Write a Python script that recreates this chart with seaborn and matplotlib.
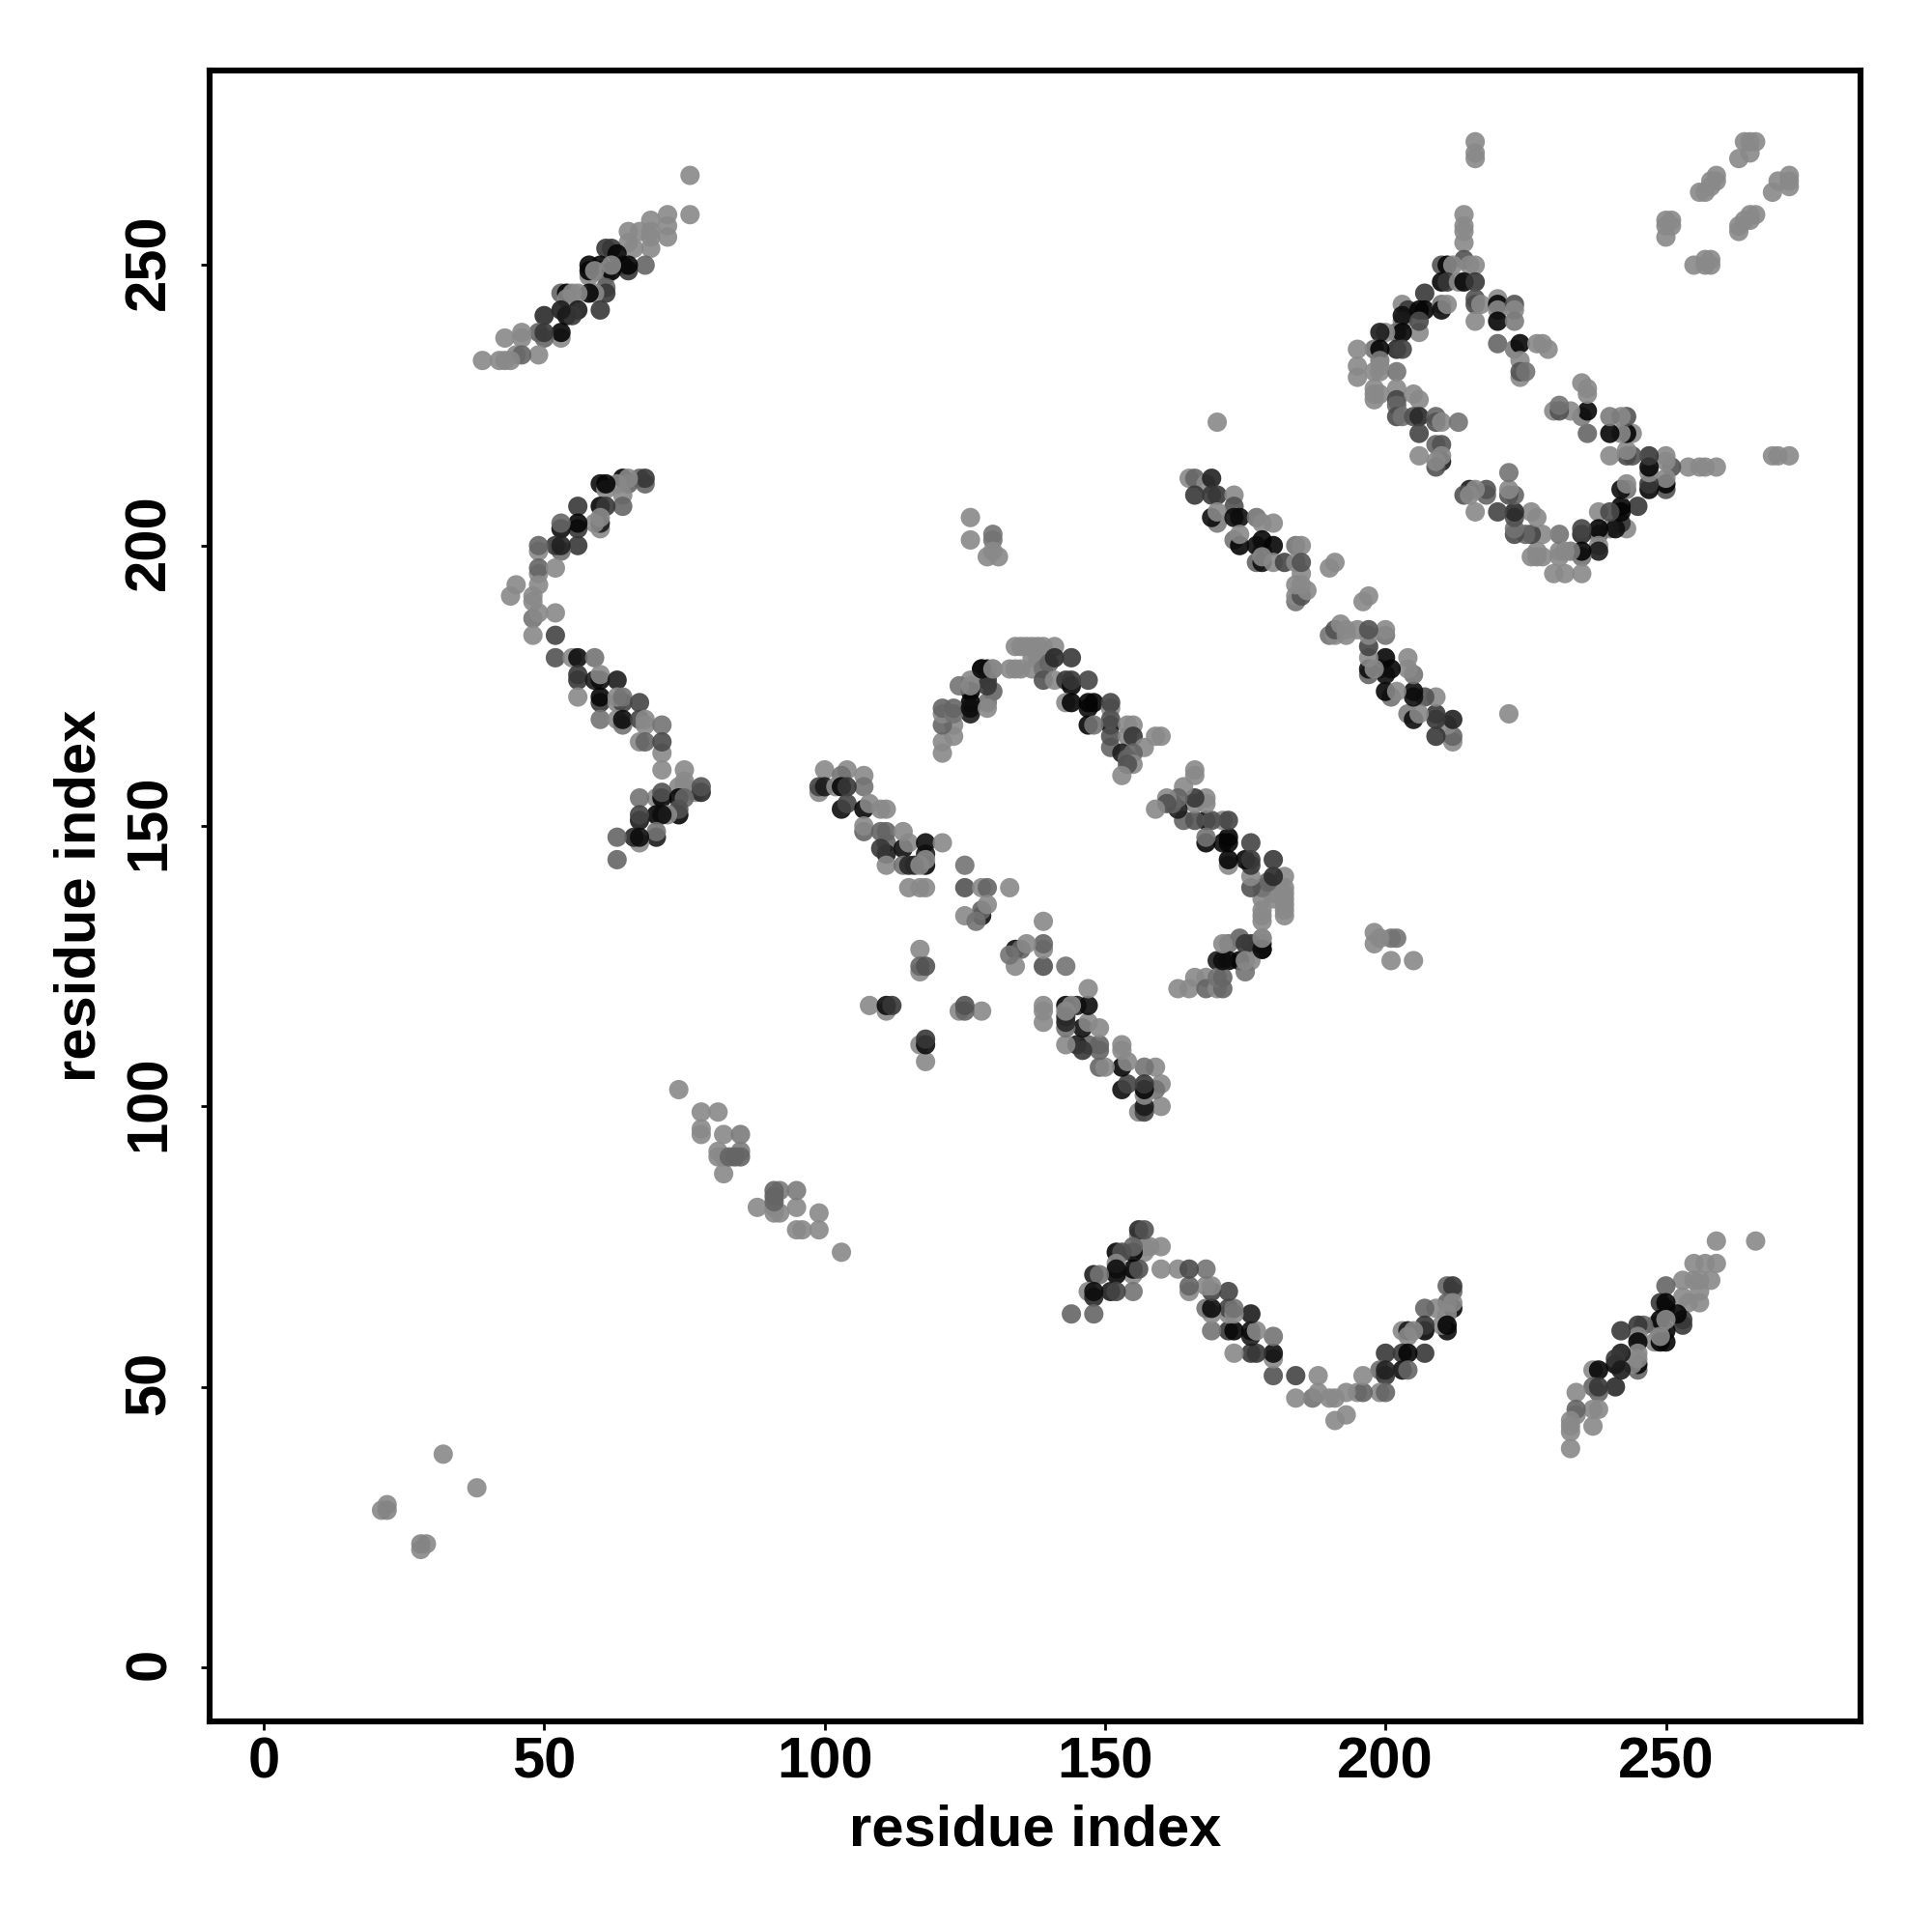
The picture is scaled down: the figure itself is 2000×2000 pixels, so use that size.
import pandas as pd
import matplotlib
matplotlib.use("Agg")
import matplotlib.pyplot as plt
from matplotlib.transforms import ScaledTranslation
import seaborn as sns

# contacts as (residue i, residue j, grey tone), upper half only, mirrored below
strand_a = [
    (76,266,.5),(76,259,.5),(72,259,.5),(72,257,.5),(72,255,.5),(69,258,.5),(69,256,.5),(69,255,.5),
    (69,253,.5),(67,256,.5),(65,256,.5),(65,254,.5),(66,253,.5),(68,250,.37),(64,250,.2),(65,249,.2),
    (65,250,.02),(61,253,.2),(62,253,.2),(63,252,.02),(60,249,.02),(60,250,.02),(61,248,.5),(61,249,.4),
    (62,249,.02),(62,250,.5),(58,248,.5),(58,250,.02),(58,249,.02),(59,249,.5),(61,246,.37),(61,245,.2),
    (59,245,.5),(58,245,.02),(53,245,.37),(54,245,.02),(55,245,.5),(56,245,.5),(54,244,.5),(56,242,.1),
    (54,241,.02),(55,241,.2),(53,242,.1),(60,242,.2),(50,241,.15),(53,237,.5),(53,238,.02),(49,238,.37),
    (50,237,.37),(50,238,.2),(46,237,.5),(46,238,.5),(43,237,.5),(49,234,.5),(45,234,.5),(46,234,.37),
    (43,233,.5),(44,233,.5),(42,233,.5),(39,233,.5),
]
strand_b = [
    (68,211,.37),(67,212,.37),(68,212,.2),(64,212,.02),(65,211,.37),(65,212,.5),(64,209,.5),(63,211,.5),
    (64,207,.37),(60,211,.05),(61,210,.5),(61,211,.02),(60,207,.02),(61,207,.2),(60,203,.5),(60,204,.1),
    (59,204,.5),(60,205,.5),(56,207,.2),(56,203,.2),(56,204,.02),(53,203,.05),(53,204,.37),(56,200,.2),
    (53,199,.4),(52,200,.2),(53,200,.12),(49,199,.5),(49,200,.37),(49,195,.5),(49,196,.37),(52,196,.5),
    (49,193,.5),(45,193,.5),(44,191,.5),(48,190,.5),(48,191,.5),(48,187,.42),(49,188,.5),(52,188,.5),
    (48,184,.5),(52,184,.25),(52,180,.3),(55,180,.5),(56,180,.05),(59,180,.42),(56,176,.2),(56,177,.2),
    (59,176,.1),(60,176,.05),(60,177,.5),(63,176,.1),(56,173,.5),(60,172,.2),(60,173,.02),(60,169,.42),
    (63,172,.5),(64,172,.25),(63,173,.5),(64,173,.42),(67,172,.25),(63,169,.5),(64,168,.42),(64,169,.05),
    (67,169,.25),(68,168,.5),(68,169,.5),(71,168,.42),(67,165,.5),(68,165,.37),(71,163,.5),(71,165,.27),
    (71,160,.5),(75,158,.5),(75,160,.5),(74,157,.5),(75,157,.5),(77,156,.5),(78,156,.15),(78,157,.3),
    (70,155,.5),(71,155,.02),(71,156,.3),(67,155,.42),(74,155,.02),(75,155,.37),(74,152,.02),(74,153,.3),
    (70,152,.02),(72,152,.5),(71,152,.05),(67,151,.1),(67,152,.25),(70,148,.1),(70,149,.42),(67,147,.5),
    (66,148,.15),(67,148,.05),(63,148,.37),(63,144,.37),
]
turn_c = [
    (74,103,.5),(78,99,.5),(81,99,.5),(78,96,.5),(78,95,.5),(82,95,.5),(85,95,.45),(81,92,.5),(85,92,.45),
    (82,88,.5),(81,91,.5),(82,91,.5),(83,91,.37),(84,91,.37),(85,91,.37),
]
strand_d = [
    (100,160,.5),(104,160,.5),(107,159,.5),(103,159,.42),(107,157,.42),(99,156,.5),(99,157,.25),(100,157,.1),
    (102,157,.5),(103,157,.02),(104,157,.2),(103,153,.05),(104,154,.25),(107,153,.02),(108,154,.5),(107,149,.37),
    (107,150,.5),(110,153,.5),(111,153,.5),(110,149,.37),(111,149,.37),(111,147,.37),(111,145,.1),(110,146,.2),
    (114,146,.05),(114,149,.5),(115,147,.5),(118,145,.1),(118,147,.05),(121,147,.5),(118,143,.02),(118,144,.5),
    (111,143,.5),(114,143,.42),(115,143,.15),(116,143,.15),(117,143,.5),(115,139,.5),(117,139,.5),(118,139,.5),
    (125,143,.42),(125,139,.3),(128,139,.5),(129,139,.37),(133,139,.5),(128,134,.05),(128,135,.37),(129,136,.5),
    (125,134,.5),(127,133,.42),(117,128,.5),(117,124,.5),(117,125,.37),(118,125,.3),(108,118,.5),(111,117,.5),
    (111,118,.05),(112,118,.2),
]
loop_e = [
    (134,182,.5),(135,182,.5),(136,182,.5),(137,182,.5),(138,182,.5),(139,182,.5),(141,182,.5),
    (133,178,.5),(134,178,.5),(135,178,.5),(137,178,.5),(137,180,.5),(138,180,.5),(139,178,.42),(140,179,.37),
    (141,180,.15),(144,180,.2),(129,178,.05),(130,178,.5),(128,178,.05),(139,176,.3),(141,176,.5),(143,176,.2),
    (144,175,.02),(144,176,.2),(147,176,.25),(129,176,.2),(130,174,.37),(126,176,.5),(126,174,.02),(129,172,.42),
    (126,170,.1),(126,172,.02),(143,172,.5),(144,172,.02),(147,171,.05),(147,172,.02),(148,172,.02),(151,171,.5),
    (151,172,.25),(151,168,.02),(151,169,.3),(147,168,.02),(148,168,.42),(154,168,.5),(155,168,.5),(151,164,.37),
    (151,166,.3),(154,166,.5),(155,166,.2),(160,166,.5),(159,166,.5),(157,164,.5),(153,163,.1),(155,163,.37),
    (154,162,.37),(155,161,.5),(154,161,.3),(153,159,.5),
    (121,163,.5),(123,166,.5),(123,168,.5),(121,165,.5),(121,168,.37),(121,170,.5),(121,171,.37),(123,170,.42),
    (123,171,.37),(126,171,.05),(129,171,.5),(129,175,.2),(124,175,.42),(126,175,.5),(128,178,.05),(130,178,.5),
]
strand_f = [
    (126,205,.5),(126,201,.5),(130,202,.42),(130,201,.42),(129,198,.5),(131,198,.5),(130,199,.5),(170,222,.5),
    (165,212,.5),(166,212,.37),(168,211,.5),(169,212,.12),(166,209,.2),(169,209,.2),(170,209,.2),(173,209,.5),
    (173,207,.3),(170,204,.45),(169,205,.05),(170,206,.5),(173,205,.05),(174,205,.05),(177,205,.42),(178,204,.5),
    (180,204,.5),(173,201,.42),(174,200,.02),(174,202,.5),(178,199,.25),(178,201,.02),(177,200,.05),(180,200,.02),
    (177,197,.37),(178,197,.05),(178,198,.5),(180,197,.5),(182,197,.25),(184,200,.42),(185,200,.5),(185,195,.5),
    (184,197,.5),(185,197,.3),(184,190,.42),(184,191,.5),(185,191,.3),(184,193,.5),(185,193,.5),(186,192,.5),
    (190,196,.5),(191,197,.5),
]
box_g = [
    (214,259,.5),(214,257,.5),(214,256,.5),(214,254,.5),(216,272,.5),(216,270,.5),(216,269,.5),
    (214,251,.3),(210,250,.3),(211,250,.02),(212,250,.5),(215,250,.5),(216,250,.5),(210,247,.02),(211,247,.2),
    (213,247,.5),(214,247,.02),(216,247,.2),(216,244,.3),(216,243,.27),(217,243,.5),(216,240,.5),
    (220,244,.5),(220,243,.02),(220,242,.5),(220,240,.02),(223,243,.3),(223,242,.5),(223,240,.45),
    (220,236,.37),(223,235,.45),(224,236,.02),(227,236,.5),(228,236,.5),(229,235,.5),(224,233,.5),(224,230,.5),
    (224,231,.3),(225,231,.42),
    (207,245,.2),(203,243,.5),(204,242,.2),(203,240,.5),(203,241,.05),(206,242,.02),(207,242,.02),(206,238,.5),
    (206,240,.27),(210,243,.42),(210,242,.05),(211,243,.5),(202,238,.4),(203,238,.02),(200,238,.5),(199,238,.1),
    (202,235,.15),(203,235,.25),(198,235,.42),(199,235,.02),(195,235,.5),(195,232,.5),(195,230,.5),(199,233,.45),
    (198,231,.5),(199,231,.5),(202,231,.42),(198,227,.5),(199,227,.5),(198,226,.5),(198,228,.5),(199,232,.5),
    (202,228,.5),(202,226,.25),(202,225,.37),(202,223,.27),(203,223,.42),(205,227,.5),(206,226,.5),(205,223,.3),
    (206,223,.15),(209,223,.37),(209,222,.3),(210,222,.5),(213,222,.42),(206,220,.25),(209,218,.37),(210,218,.3),
    (210,215,.1),(210,216,.5),(209,214,.3),(209,215,.5),(206,216,.5),
]
corner_h = [
    (250,255,.5),(250,257,.5),(250,258,.5),(251,257,.5),(251,258,.5),(256,263,.5),(257,263,.5),(258,264,.5),
    (258,265,.5),(259,265,.5),(259,266,.5),(263,269,.5),(264,272,.5),(265,272,.5),(266,272,.5),(265,270,.5),
]
corner_i = [(21,28,.5),(22,29,.5),(22,28,.48),(32,38,.5)]

contacts = strand_a + strand_b + turn_c + strand_d + loop_e + strand_f + box_g + corner_h + corner_i

df = pd.DataFrame(contacts, columns=["i", "j", "tone"])
mirror = df.rename(columns={"i": "j", "j": "i"})
data = pd.concat([df, mirror], ignore_index=True)

sns.set_theme(style="white")
plt.rcParams["font.family"] = ["Liberation Sans", "DejaVu Sans"]
plt.rcParams["font.weight"] = "bold"
plt.rcParams["text.color"] = "black"
plt.rcParams["axes.labelcolor"] = "black"
plt.rcParams["xtick.color"] = "black"
plt.rcParams["ytick.color"] = "black"

fig = plt.figure(figsize=(10, 10), dpi=200)
ax = fig.add_axes([217 / 2000, 218 / 2000, 1709 / 2000, 1709 / 2000])

sns.scatterplot(
    data=data,
    x="i",
    y="j",
    hue="tone",
    palette="gray",
    hue_norm=(0, 0.93),
    s=52,
    linewidth=0,
    alpha=0.9,
    legend=False,
    ax=ax
)

ax.set_xlim(-9.65, 284.7)
ax.set_ylim(-9.65, 284.7)
ax.set_xticks([0, 50, 100, 150, 200, 250])
ax.set_yticks([0, 50, 100, 150, 200, 250])
ax.tick_params(axis="x", length=3.2, width=1.0, color="black", labelcolor="black", labelsize=21.5, pad=2.3, bottom=True)
ax.tick_params(axis="y", length=3.2, width=1.0, color="black", labelcolor="black", labelsize=21.5, pad=9.1, left=True)
nudge = ScaledTranslation(0, 3.5 / 200, fig.dpi_scale_trans)
for label in ax.get_yticklabels():
    label.set_rotation(90)
    label.set_va("center")
    label.set_transform(label.get_transform() + nudge)
for spine in ax.spines.values():
    spine.set_linewidth(2.2)
    spine.set_color("black")

ax.set_xlabel("residue index", fontsize=21.5, fontweight="bold", color="black", labelpad=5.5)
ax.set_ylabel("residue index", fontsize=21.5, fontweight="bold", color="black", labelpad=6.2)

plt.savefig("out.png", dpi=200)
